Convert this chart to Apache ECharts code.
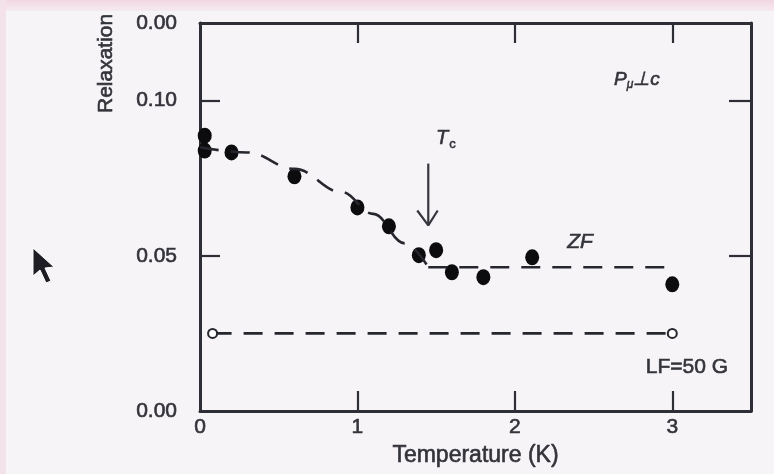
<!DOCTYPE html>
<html>
<head>
<meta charset="utf-8">
<script src="https://cdn.jsdelivr.net/npm/echarts@6/dist/echarts.min.js"></script>
<style>
html,body{margin:0;padding:0;background:#f7f4f8;}
#c{width:774px;height:474px;}
</style>
</head>
<body>
<div id="c"></div>
<script>
// ---- data ----
const xTickValues = [0, 1, 2, 3];
const yTickValues = [0, 0.05, 0.10, 0.125];
const yTickLabels = ['0.00', '0.05', '0.10', '0.00'];

// ZF measured points (filled circles)
const zfTemp  = [0.03, 0.03, 0.20, 0.60, 1.00, 1.20, 1.39, 1.50, 1.60, 1.80, 2.11, 3.00];
const zfRelax = [0.0887, 0.0839, 0.0833, 0.0756, 0.0656, 0.0595, 0.0502, 0.0518, 0.0447, 0.0431, 0.0495, 0.0408];

// ZF dashed guide curve (below Tc) and flat part (above Tc)
const fitTemp  = [0, 0.30, 0.60, 0.90, 1.10, 1.30, 1.45];
const fitRelax = [0.0850, 0.0833, 0.0780, 0.0705, 0.0635, 0.0540, 0.0463];
const flatTemp  = [1.45, 3.00];
const flatRelax = [0.0463, 0.0463];

// LF = 50 G points (open circles) joined by dashed line
const lfTemp  = [0.08, 3.00];
const lfRelax = [0.025, 0.025];

// Tc arrow
const arrowTemp = [1.45, 1.45];
const arrowRelax = [0.0797, 0.0598];
const headTemp = [1.38, 1.45, 1.51];
const headRelax = [0.0646, 0.0598, 0.0646];

const zip = (a, b) => a.map((v, i) => [v, b[i]]);

const AX = '#2e2e36';
const TXT = '#33333a';
const FONT = 'Liberation Sans';
const thick = {textBorderColor: TXT, textBorderWidth: 0.6};

const chart = echarts.init(document.getElementById('c'), null, {renderer: 'canvas'});
chart.setOption({
  backgroundColor: '#f7f4f8',
  animation: false,
  grid: {left: 200, right: 23, top: 23, bottom: 63},
  xAxis: [{
    type: 'value', position: 'bottom', min: 0, max: 3.5,
    axisLine: {onZero: false, lineStyle: {color: AX, width: 3}},
    axisTick: {inside: true, length: 20, customValues: [1, 2, 3], lineStyle: {color: AX, width: 2.2}},
    axisLabel: Object.assign({customValues: xTickValues, fontSize: 21, color: TXT, fontFamily: FONT, margin: 6}, thick),
    splitLine: {show: false},
    name: 'Temperature (K)', nameLocation: 'middle', nameGap: 33,
    nameTextStyle: Object.assign({fontSize: 23, color: TXT, fontFamily: FONT}, thick)
  }, {
    type: 'value', position: 'top', min: 0, max: 3.5,
    axisLine: {onZero: false, lineStyle: {color: AX, width: 3}},
    axisTick: {inside: true, length: 20, customValues: [1, 2, 3], lineStyle: {color: AX, width: 2.2}},
    axisLabel: {show: false},
    splitLine: {show: false}
  }],
  yAxis: [{
    type: 'value', position: 'left', min: 0, max: 0.125,
    axisLine: {show: true, onZero: false, lineStyle: {color: AX, width: 3}},
    axisTick: {show: true, inside: true, length: 20, customValues: [0.05, 0.10], lineStyle: {color: AX, width: 2.2}},
    axisLabel: Object.assign({
      customValues: yTickValues, fontSize: 21, color: TXT, fontFamily: FONT, margin: 23,
      formatter: v => {
        const i = yTickValues.findIndex(t => Math.abs(t - v) < 1e-9);
        return i >= 0 ? yTickLabels[i] : '';
      }
    }, thick),
    splitLine: {show: false}
  }, {
    type: 'value', position: 'right', min: 0, max: 0.125,
    axisLine: {show: true, onZero: false, lineStyle: {color: AX, width: 3}},
    axisTick: {show: true, inside: true, length: 22, customValues: [0.05, 0.10], lineStyle: {color: AX, width: 2.2}},
    axisLabel: {show: false},
    splitLine: {show: false}
  }],
  series: [{
    name: 'ZF fit', type: 'line', smooth: 0.4, smoothMonotone: 'x', showSymbol: false,
    data: zip(fitTemp, fitRelax), silent: true,
    lineStyle: {color: '#26262e', width: 2.6, type: [19, 12]}
  }, {
    name: 'ZF flat', type: 'line', showSymbol: false,
    data: zip(flatTemp, flatRelax), silent: true,
    lineStyle: {color: '#26262e', width: 2.6, type: [19, 12]}
  }, {
    name: 'LF', type: 'line', symbol: 'emptyCircle', symbolSize: 9, showSymbol: true,
    data: zip(lfTemp, lfRelax), silent: true,
    itemStyle: {color: '#26262e', borderWidth: 2.5},
    lineStyle: {color: '#26262e', width: 2.6, type: [19, 12]}
  }, {
    name: 'ZF', type: 'scatter', symbol: 'circle', symbolSize: [14, 16],
    data: zip(zfTemp, zfRelax),
    itemStyle: {color: '#0c0c0e', opacity: 1}
  }, {
    name: 'Tc arrow', type: 'line', showSymbol: false, silent: true,
    data: zip(arrowTemp, arrowRelax),
    lineStyle: {color: '#36363e', width: 2.2}
  }, {
    name: 'Tc head', type: 'line', showSymbol: false, silent: true,
    data: zip(headTemp, headRelax),
    lineStyle: {color: '#36363e', width: 2.2}
  }],
  graphic: [
    // slide border tint
    {type: 'rect', left: 0, top: 0, z: -10, shape: {width: 774, height: 11},
     style: {fill: new echarts.graphic.LinearGradient(0, 0, 0, 1, [{offset: 0, color: '#f2d7e1'}, {offset: 1, color: '#f6eaf0'}])}},
    {type: 'rect', left: 0, top: 0, z: -10, shape: {width: 6, height: 474},
     style: {fill: '#f3e2ea'}},
    // axis title
    {type: 'text', x: 106, y: 113, rotation: Math.PI / 2,
     style: {text: 'Relaxation', fontSize: 21, fontFamily: FONT, fill: TXT, stroke: TXT, lineWidth: 0.6, textAlign: 'left', textVerticalAlign: 'middle'}},
    // annotations
    {type: 'text', x: 436, y: 138,
     style: {text: '{t|T}{s|c}', fontFamily: FONT, fill: TXT,
       rich: {t: {fontSize: 20, fontStyle: 'italic', fontFamily: FONT, fill: TXT, stroke: TXT, lineWidth: 0.6},
              s: {fontSize: 13, fontFamily: FONT, fill: TXT, stroke: TXT, lineWidth: 0.5, padding: [12, 0, 0, 1]}},
       textVerticalAlign: 'middle'}},
    {type: 'text', x: 614, y: 80,
     style: {text: '{p|P}{s|μ}{q|⊥c}', fontFamily: FONT, fill: TXT,
       rich: {p: {fontSize: 19, fontStyle: 'italic', fontFamily: FONT, fill: TXT, stroke: TXT, lineWidth: 0.6},
              s: {fontSize: 12, fontStyle: 'italic', fontFamily: FONT, fill: TXT, stroke: TXT, lineWidth: 0.5, padding: [10, 0, 0, 0]},
              q: {fontSize: 19, fontStyle: 'italic', fontFamily: FONT, fill: TXT, stroke: TXT, lineWidth: 0.6}},
       textVerticalAlign: 'middle'}},
    {type: 'text', x: 580, y: 242,
     style: {text: 'ZF', fontSize: 21, fontStyle: 'italic', fontFamily: FONT, fill: TXT, stroke: TXT, lineWidth: 0.6, textAlign: 'center', textVerticalAlign: 'middle'}},
    {type: 'text', x: 728, y: 367,
     style: {text: 'LF=50 G', fontSize: 21, fontFamily: FONT, fill: TXT, stroke: TXT, lineWidth: 0.6, textAlign: 'right', textVerticalAlign: 'middle'}},
    // mouse pointer seen in the photo
    {type: 'polygon', z: 10,
     shape: {points: [[33, 248], [33, 276], [40, 270], [46, 283], [51, 281], [45, 268], [54, 267]]},
     style: {fill: '#1e1e24', stroke: '#ffffff', lineWidth: 1}}
  ]
});
</script>
</body>
</html>
